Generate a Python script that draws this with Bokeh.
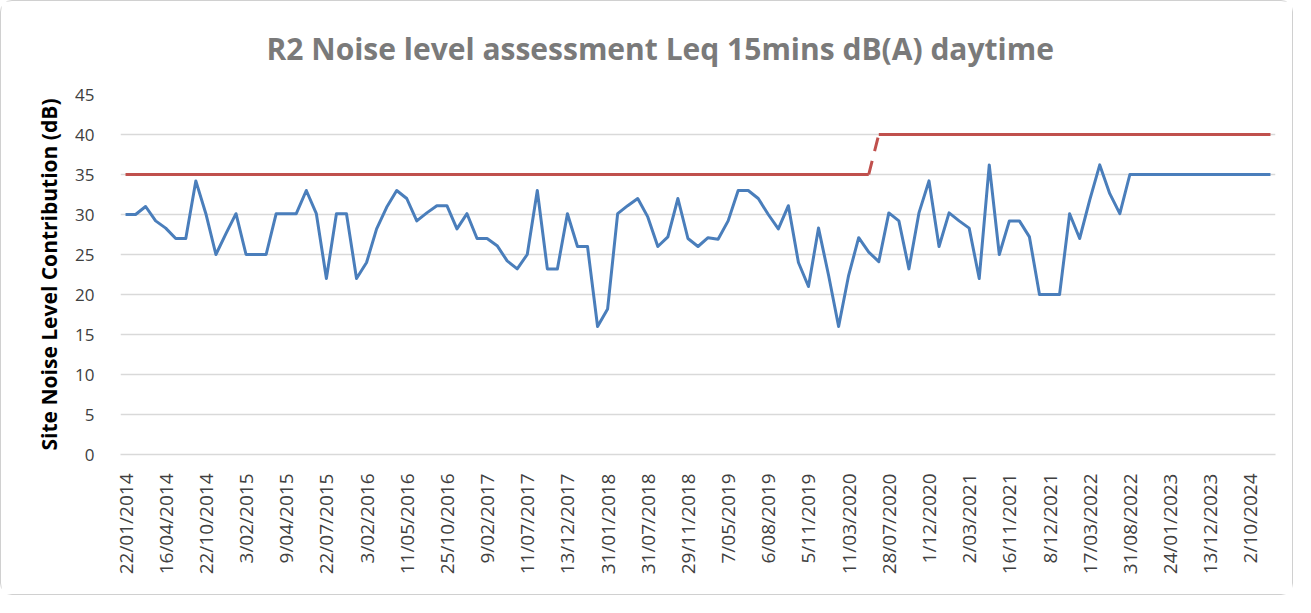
from bokeh.plotting import figure
from bokeh.models import Range1d, FixedTicker
from bokeh.embed import file_html
from bokeh.resources import INLINE
import math

title_text = "R2 Noise level assessment Leq 15mins dB(A) daytime"

# x-axis tick labels (every 4th sampling date is shown)
tick_labels = ["22/01/2014", "16/04/2014", "22/10/2014", "3/02/2015", "9/04/2015",
               "22/07/2015", "3/02/2016", "11/05/2016", "25/10/2016", "9/02/2017",
               "11/07/2017", "13/12/2017", "31/01/2018", "31/07/2018", "29/11/2018",
               "7/05/2019", "6/08/2019", "5/11/2019", "11/03/2020", "28/07/2020",
               "1/12/2020", "2/03/2021", "16/11/2021", "8/12/2021", "17/03/2022",
               "31/08/2022", "24/01/2023", "13/12/2023", "2/10/2024"]
label_every = 4

# Site noise level contribution (dB), one value per sampling date
noise = [30, 30, 31, 29.2, 28.3, 27, 27, 34.2, 30.1, 25,
         27.6, 30.1, 25, 25, 25, 30.1, 30.1, 30.1, 33, 30.1,
         22, 30.1, 30.1, 22, 24, 28.2, 30.9, 33, 32, 29.2,
         30.2, 31.1, 31.1, 28.2, 30.1, 27, 27, 26.1, 24.2, 23.2,
         25, 33, 23.2, 23.2, 30.1, 26, 26, 16, 18.2, 30.1,
         31.1, 32, 29.7, 26, 27.2, 32, 27, 26, 27.1, 26.9,
         29.2, 33, 33, 32, 30, 28.2, 31.1, 24, 21, 28.3,
         22.4, 16, 22.4, 27.1, 25.3, 24.1, 30.2, 29.2, 23.2, 30.2,
         34.2, 26, 30.2, 29.2, 28.3, 22, 36.2, 25, 29.2, 29.2,
         27.2, 20, 20, 20, 30.1, 27, 31.8, 36.2, 32.6, 30.1,
         35, 35, 35, 35, 35, 35, 35, 35, 35, 35,
         35, 35, 35, 35, 35]

# Noise criterion (dB)
limit = [35, 35, 35, 35, 35, 35, 35, 35, 35, 35,
         35, 35, 35, 35, 35, 35, 35, 35, 35, 35,
         35, 35, 35, 35, 35, 35, 35, 35, 35, 35,
         35, 35, 35, 35, 35, 35, 35, 35, 35, 35,
         35, 35, 35, 35, 35, 35, 35, 35, 35, 35,
         35, 35, 35, 35, 35, 35, 35, 35, 35, 35,
         35, 35, 35, 35, 35, 35, 35, 35, 35, 35,
         35, 35, 35, 35, 35, 40, 40, 40, 40, 40,
         40, 40, 40, 40, 40, 40, 40, 40, 40, 40,
         40, 40, 40, 40, 40, 40, 40, 40, 40, 40,
         40, 40, 40, 40, 40, 40, 40, 40, 40, 40,
         40, 40, 40, 40, 40]

y_ticks = [0, 5, 10, 15, 20, 25, 30, 35, 40, 45]

n = len(noise)
xs = list(range(n))

p = figure(width=1293, height=595, output_backend="svg", toolbar_location=None,
           x_range=Range1d(-0.5, n - 0.5), y_range=Range1d(0, 45),
           min_border_left=119, min_border_right=19, min_border_top=93,
           min_border_bottom=142, background_fill_color="white",
           border_fill_color="white", outline_line_color=None)
p.styles = {"border": "1px solid #d0d0d0", "border-radius": "12px"}

p.title.text = title_text
p.title.align = "left"
p.title.vertical_align = "top"
p.title.text_font = "Open Sans"
p.title.text_font_size = "30px"
p.title.text_font_style = "bold"
p.title.text_color = "#7a7a7a"
p.title.standoff = 48
p.title.offset = 146

# grid
p.xgrid.grid_line_color = None
p.ygrid.grid_line_color = "#d9d9d9"
p.ygrid.grid_line_width = 1.5
p.yaxis.ticker = FixedTicker(ticks=y_ticks)

# y axis
p.yaxis.axis_line_color = None
p.yaxis.major_tick_line_color = None
p.yaxis.minor_tick_line_color = None
p.yaxis.major_label_text_font = "Open Sans"
p.yaxis.major_label_text_font_size = "17px"
p.yaxis.major_label_text_color = "#404040"
p.yaxis.major_label_standoff = 20
p.yaxis.axis_label = "Site Noise Level Contribution (dB)"
p.yaxis.axis_label_text_font = "Open Sans"
p.yaxis.axis_label_text_font_size = "21px"
p.yaxis.axis_label_text_font_style = "bold"
p.yaxis.axis_label_text_color = "#000000"
p.yaxis.axis_label_standoff = 9

# x axis
tick_pos = xs[::label_every]
p.xaxis.ticker = FixedTicker(ticks=tick_pos)
p.xaxis.major_label_overrides = {t: lab for t, lab in zip(tick_pos, tick_labels)}
p.xaxis.major_label_orientation = math.pi / 2
p.xaxis.axis_line_color = "#d9d9d9"
p.xaxis.axis_line_width = 1.5
p.xaxis.major_tick_line_color = None
p.xaxis.minor_tick_line_color = None
p.xaxis.major_label_text_font = "Open Sans"
p.xaxis.major_label_text_font_size = "19px"
p.xaxis.major_label_text_color = "#404040"
p.xaxis.major_label_standoff = 13

# limit line (step between the two criteria drawn dashed)
split = next(i for i in range(1, n) if limit[i] != limit[i - 1])
p.line(xs[:split], limit[:split], line_color="#c0504d", line_width=3)
p.line(xs[split:], limit[split:], line_color="#c0504d", line_width=3)
p.line(xs[split - 1:split + 1], limit[split - 1:split + 1], line_color="#c0504d",
       line_width=3, line_dash="14 10")

# noise series
p.line(xs, noise, line_color="#4a7ebb", line_width=3, line_join="round")

open("out.html", "w").write(file_html(p, INLINE))
